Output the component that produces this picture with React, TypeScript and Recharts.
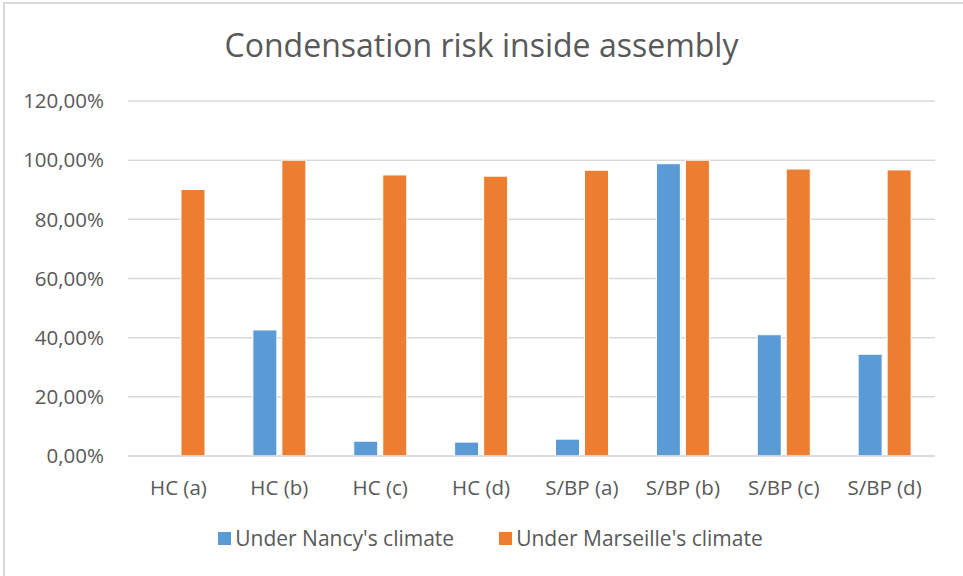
import { BarChart, Bar, XAxis, YAxis, CartesianGrid } from "recharts";

const categories = ["HC (a)", "HC (b)", "HC (c)", "HC (d)", "S/BP (a)", "S/BP (b)", "S/BP (c)", "S/BP (d)"];
const nancy = [0, 42.6, 5.0, 4.7, 5.7, 98.8, 41.0, 34.4];
const marseille = [90.1, 100, 95.0, 94.6, 96.6, 100, 97.0, 96.7];
const yTicks = [0, 20, 40, 60, 80, 100, 120];

const seriesNames = ["Under Nancy's climate", "Under Marseille's climate"];
const BLUE = "#5B9BD5";
const ORANGE = "#ED7D31";
const TEXT = "#595959";
const FONT = "'Open Sans', sans-serif";

const data = categories.map((name, i) => ({ name, nancy: nancy[i], marseille: marseille[i] }));

const fmtPct = (v: number) => v.toFixed(2).replace(".", ",") + "%";

export default function App() {
  return (
    <div
      style={{
        position: "absolute",
        left: 0,
        top: 0,
        width: 963,
        height: 576,
        background: "#fff",
        fontFamily: FONT,
      }}
    >
      <div
        style={{
          position: "absolute",
          left: 3,
          top: 2,
          width: 960,
          height: 574,
          borderLeft: "2px solid #d9d9d9",
          borderTop: "2px solid #d9d9d9",
          boxSizing: "border-box",
        }}
      />
      <div
        style={{
          position: "absolute",
          top: 23,
          left: 0,
          width: 963,
          textAlign: "center",
          fontSize: 32,
          color: TEXT,
        }}
      >
        Condensation risk inside assembly
      </div>
      <div style={{ position: "absolute", left: 0, top: 0 }}>
        <BarChart
          width={963}
          height={576}
          data={data}
          margin={{ top: 101, right: 28, left: 0, bottom: 70 }}
          barSize={24}
          barGap={5}
        >
          <CartesianGrid vertical={false} stroke="#d9d9d9" strokeWidth={1.5} />
          <XAxis
            dataKey="name"
            height={50}
            tickLine={false}
            axisLine={{ stroke: "#d9d9d9", strokeWidth: 1.5 }}
            tickSize={0}
            tickMargin={24}
            tick={{ fill: TEXT, fontSize: 20.5, fontFamily: FONT }}
            interval={0}
          />
          <YAxis
            width={128}
            domain={[0, 120]}
            ticks={yTicks}
            tickFormatter={fmtPct}
            axisLine={false}
            tickLine={false}
            tickSize={0}
            tickMargin={24}
            tick={{ fill: TEXT, fontSize: 20.5, fontFamily: FONT }}
            interval={0}
          />
          <Bar dataKey="nancy" name={seriesNames[0]} fill={BLUE} stroke="#fff" strokeWidth={1} isAnimationActive={false} />
          <Bar dataKey="marseille" name={seriesNames[1]} fill={ORANGE} stroke="#fff" strokeWidth={1} isAnimationActive={false} />
        </BarChart>
      </div>
      <div
        style={{
          position: "absolute",
          top: 524,
          left: 9,
          width: 963,
          display: "flex",
          justifyContent: "center",
          gap: 45,
          fontSize: 21,
          color: TEXT,
        }}
      >
        {seriesNames.map((n, i) => (
          <div key={n} style={{ display: "flex", alignItems: "center" }}>
            <span
              style={{
                display: "inline-block",
                width: 13,
                height: 13,
                background: i === 0 ? BLUE : ORANGE,
                marginRight: 4,
              }}
            />
            <span>{n}</span>
          </div>
        ))}
      </div>
    </div>
  );
}
